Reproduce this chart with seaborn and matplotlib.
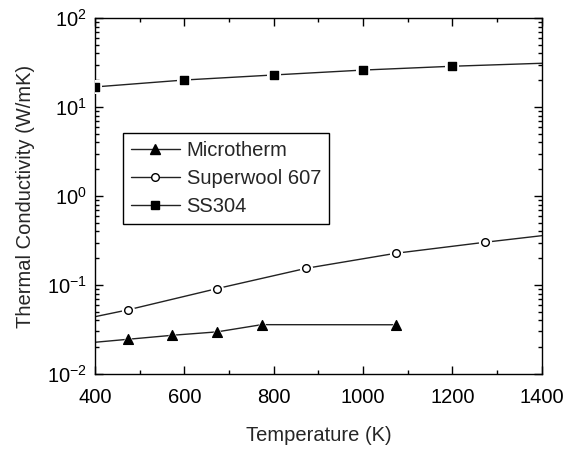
import matplotlib
matplotlib.use("Agg")
import matplotlib.pyplot as plt
import seaborn as sns
import pandas as pd
import numpy as np
from matplotlib.lines import Line2D
from matplotlib.ticker import MultipleLocator, LogLocator, NullFormatter

# Data
micro_T = [473, 573, 673, 773, 1073]
micro_k = [0.0245, 0.0272, 0.0297, 0.0358, 0.0357]
micro_line_T = [400, 473, 573, 673, 773, 1073]
micro_line_k = [0.0227, 0.0245, 0.0272, 0.0297, 0.0358, 0.0357]

sw_T = [473, 673, 873, 1073, 1273]
sw_k = [0.0524, 0.091, 0.154, 0.227, 0.302]
sw_line_T = [400, 473, 673, 873, 1073, 1273, 1400]
sw_line_k = [0.044, 0.0524, 0.091, 0.154, 0.227, 0.302, 0.358]

ss_T = [400, 600, 800, 1000, 1200]
ss_k = [16.8, 20.1, 22.9, 26.0, 28.7]
ss_line_T = [400, 600, 800, 1000, 1200, 1400]
ss_line_k = [16.8, 20.1, 22.9, 26.0, 28.7, 31.0]

labels = ["Microtherm", "Superwool 607", "SS304"]

sns.set_style("ticks")
plt.rcParams['font.family'] = ['Liberation Sans', 'DejaVu Sans']
plt.rcParams['mathtext.fontset'] = 'custom'
plt.rcParams['mathtext.rm'] = 'Liberation Sans'
plt.rcParams['mathtext.it'] = 'Liberation Sans'
plt.rcParams['mathtext.default'] = 'regular'

fig = plt.figure(figsize=(5.74, 4.5), dpi=100)
ax = fig.add_axes([0.1655, 0.169, 0.7785, 0.791])

lc = "#222222"
series = [
    (micro_line_T, micro_line_k, micro_T, micro_k, "^", 7, "black"),
    (sw_line_T, sw_line_k, sw_T, sw_k, "o", 5.5, "white"),
    (ss_line_T, ss_line_k, ss_T, ss_k, "s", 5.5, "black"),
]
for lt, lk, mt, mk, m, ms, fc in series:
    dfl = pd.DataFrame({"T": lt, "k": lk})
    sns.lineplot(data=dfl, x="T", y="k", ax=ax, color=lc, linewidth=1.0,
                 estimator=None, sort=False, legend=False, zorder=2)
    dfm = pd.DataFrame({"T": mt, "k": mk})
    sns.scatterplot(data=dfm, x="T", y="k", ax=ax, marker=m, s=(ms + 4) ** 2,
                    color="white", edgecolor="white", linewidth=0, legend=False, zorder=3)
    sns.scatterplot(data=dfm, x="T", y="k", ax=ax, marker=m, s=ms ** 2,
                    color=fc, edgecolor="black", linewidth=1.0, legend=False, zorder=4)

ax.set_yscale("log")
ax.set_xlim(400, 1400)
ax.set_ylim(1e-2, 1e2)
ax.xaxis.set_major_locator(MultipleLocator(200))
ax.xaxis.set_minor_locator(MultipleLocator(100))
ax.yaxis.set_major_locator(LogLocator(base=10, numticks=10))
ax.yaxis.set_minor_locator(LogLocator(base=10, subs=np.arange(2, 10), numticks=20))
ax.yaxis.set_minor_formatter(NullFormatter())

ax.tick_params(which="both", direction="in", top=True, right=True, width=1.0,
               labelsize=14.5, colors="black")
ax.tick_params(which="major", length=6)
ax.tick_params(axis="x", which="major", pad=10)
ax.tick_params(axis="y", which="major", pad=6)
ax.tick_params(which="minor", length=3)
for s in ax.spines.values():
    s.set_linewidth(1.0)
    s.set_color("black")

ax.set_xlabel("Temperature (K)", fontsize=14.5, labelpad=14)
ax.set_ylabel("Thermal Conductivity (W/mK)", fontsize=14.5, labelpad=8)

handles = [
    Line2D([], [], color=lc, lw=1.0, marker="^", ms=7, mfc="black", mec="black"),
    Line2D([], [], color=lc, lw=1.0, marker="o", ms=5.5, mfc="white", mec="black"),
    Line2D([], [], color=lc, lw=1.0, marker="s", ms=5.5, mfc="black", mec="black"),
]
leg = ax.legend(handles, labels, loc="upper left", bbox_to_anchor=(0.063, 0.677),
                fontsize=14.5, frameon=True, fancybox=False, framealpha=1,
                edgecolor="black", handlelength=2.4, borderpad=0.4,
                labelspacing=0.45, handletextpad=0.35, borderaxespad=0)
leg.get_frame().set_linewidth(1.0)

fig.savefig("out.png", dpi=100)
